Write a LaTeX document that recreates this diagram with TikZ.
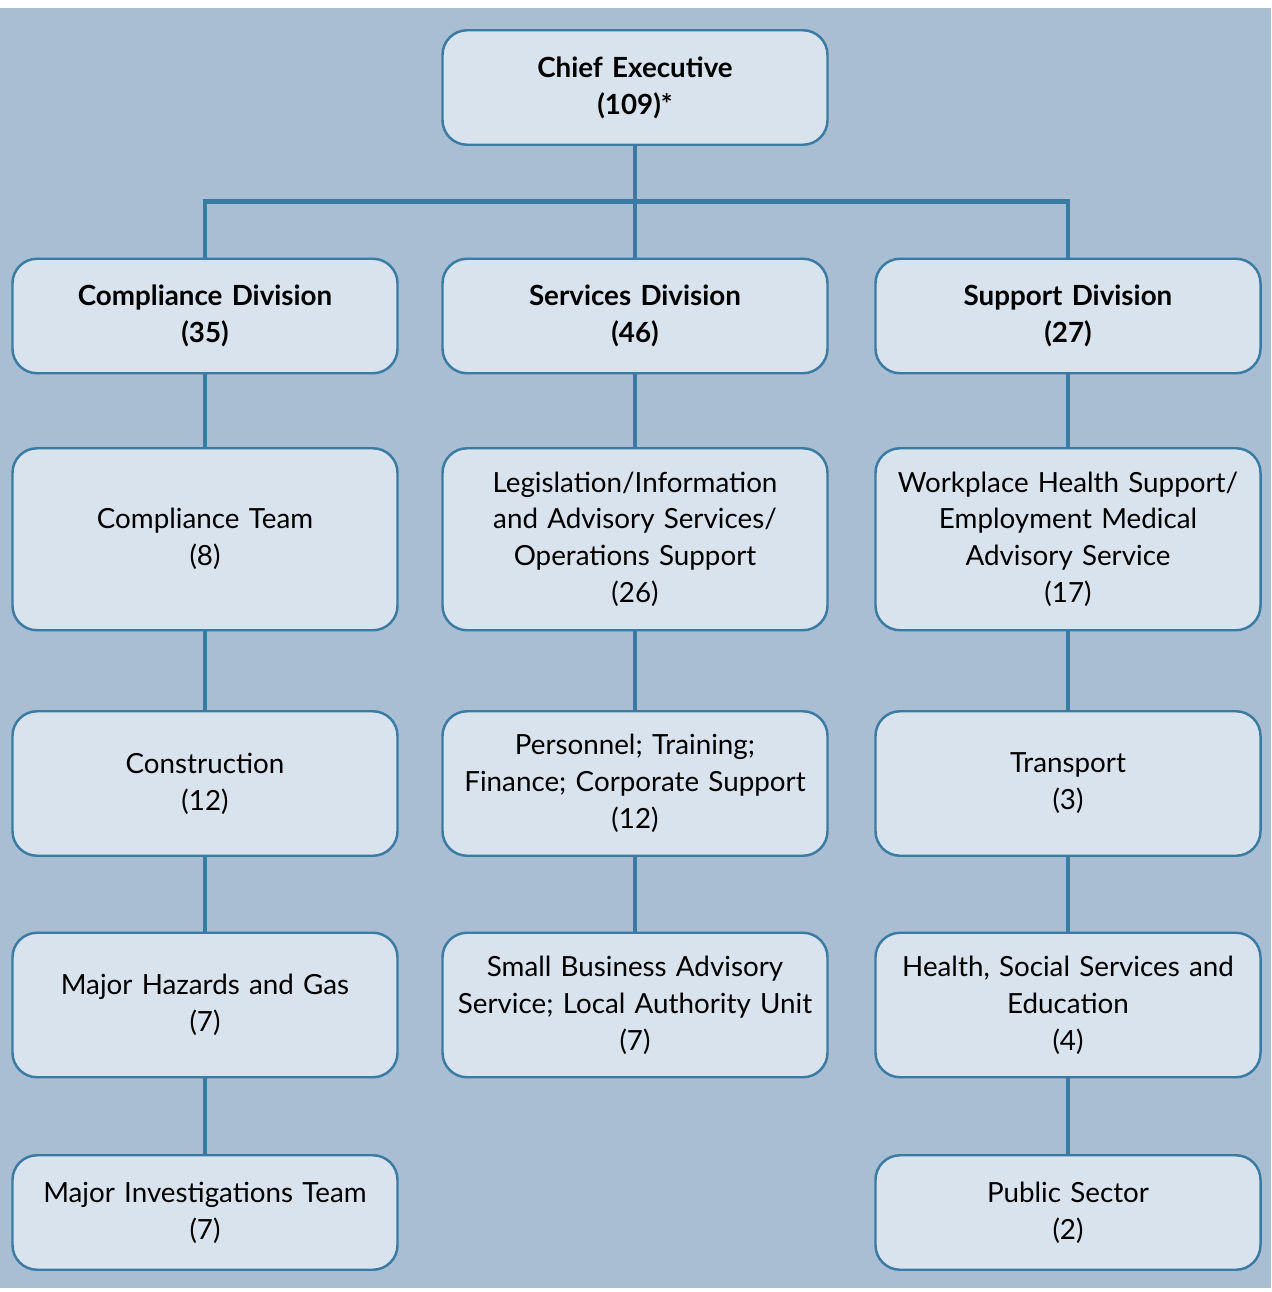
\documentclass[tikz,border=0pt]{standalone}
\usepackage{fontspec}
\setmainfont{Lato}
\usetikzlibrary{positioning, calc}

\definecolor{bgblue}{HTML}{A9BED3}
\definecolor{boxfill}{HTML}{D9E3EE}
\definecolor{boxline}{HTML}{3A7BA3}

\begin{document}
\begin{tikzpicture}[
    node distance=1.5cm and 0.9cm,
    unit/.style={rectangle, draw=boxline, fill=boxfill, line width=1.4pt, text width=7.5cm, align=center, rounded corners=14pt, minimum width=7.7cm, minimum height=2.29cm, inner sep=0pt, outer sep=0pt, font=\fontsize{15.8pt}{21pt}\selectfont},
    head/.style={unit, font=\fontsize{15.8pt}{21pt}\selectfont\bfseries},
    tall/.style={unit, minimum height=3.64cm},
    mid/.style={unit, minimum height=2.89cm},
    link/.style={draw=boxline, line width=2.6pt}
]
    % Frame
    \useasboundingbox (0,0) rectangle (25.42,-25.84);
    \fill [bgblue] (0,-0.16) rectangle (25.42,-25.76);

    % Top
    \node [head] (chief) at (12.7,-1.75) {Chief Executive\\(109)*};

    % Divisions
    \node [head, below=2.28cm of chief] (serv) {Services Division\\(46)};
    \node [head, left=0.9cm of serv] (comp) {Compliance Division\\(35)};
    \node [head, right=0.96cm of serv] (supp) {Support Division\\(27)};
    \coordinate (bus) at ($(chief.south)!0.5!(serv.north)$);

    % Compliance units
    \node [tall, below=1.5cm of comp] (cteam) {Compliance Team\\(8)};
    \node [mid, below=1.62cm of cteam] (constr) {Construction\\(12)};
    \node [mid, below=1.54cm of constr] (hazard) {Major Hazards and Gas\\(7)};
    \node [unit, below=1.56cm of hazard] (invest) {Major Investigations Team\\(7)};

    % Services units
    \node [tall, below=1.5cm of serv] (legis) {Legislation/Information\\and Advisory Services/\\Operations Support\\(26)};
    \node [mid, below=1.62cm of legis] (person) {Personnel; Training;\\Finance; Corporate Support\\(12)};
    \node [mid, below=1.54cm of person] (small) {Small Business Advisory\\Service; Local Authority Unit\\(7)};

    % Support units
    \node [tall, below=1.5cm of supp] (health) {Workplace Health Support/\\Employment Medical\\Advisory Service\\(17)};
    \node [mid, below=1.62cm of health] (trans) {Transport\\(3)};
    \node [mid, below=1.54cm of trans] (social) {Health, Social Services and\\Education\\(4)};
    \node [unit, below=1.56cm of social] (public) {Public Sector\\(2)};

    % Connections
    \path [link] (chief.south) -- (serv.north);
    \path [link] (comp.north) |- (bus) -| (supp.north);

    \path [link] (comp) -- (cteam);
    \path [link] (cteam) -- (constr);
    \path [link] (constr) -- (hazard);
    \path [link] (hazard) -- (invest);

    \path [link] (serv) -- (legis);
    \path [link] (legis) -- (person);
    \path [link] (person) -- (small);

    \path [link] (supp) -- (health);
    \path [link] (health) -- (trans);
    \path [link] (trans) -- (social);
    \path [link] (social) -- (public);

\end{tikzpicture}
\end{document}
